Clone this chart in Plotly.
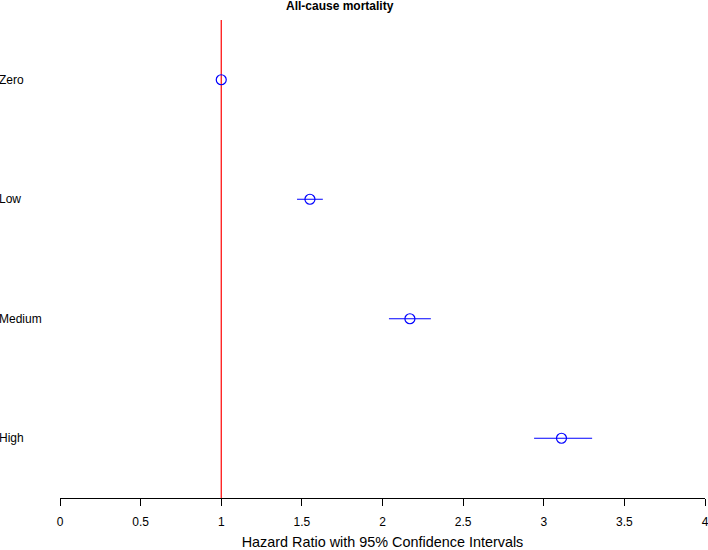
import plotly.graph_objects as go

categories = ["Zero", "Low", "Medium", "High"]
positions = [4, 3, 2, 1]
hazard_ratio = [1.0, 1.55, 2.17, 3.11]
ci_lower = [1.0, 1.47, 2.04, 2.94]
ci_upper = [1.0, 1.63, 2.30, 3.30]
tick_vals = [0, 0.5, 1, 1.5, 2, 2.5, 3, 3.5, 4]
tick_text = ["0", "0.5", "1", "1.5", "2", "2.5", "3", "3.5", "4"]
reference_value = 1

FONT = "Liberation Sans, Arial, Helvetica, sans-serif"

fig = go.Figure()
fig.add_trace(go.Scatter(
    x=hazard_ratio,
    y=positions,
    mode="markers",
    marker=dict(symbol="circle-open", size=10, color="#0000ff", line=dict(width=1.2, color="#0000ff")),
    error_x=dict(
        type="data", symmetric=False,
        array=[u - h for u, h in zip(ci_upper, hazard_ratio)],
        arrayminus=[h - l for h, l in zip(hazard_ratio, ci_lower)],
        color="#0000ff", thickness=1, width=0,
    ),
    showlegend=False,
    hoverinfo="skip",
))

fig.add_shape(type="line", x0=reference_value, x1=reference_value, y0=0.5, y1=4.5,
              xref="x", yref="y", line=dict(color="#ff0000", width=1.2), layer="below")

W, H = 708, 550
ml, mr, mt, mb = 60, 3, 20, 52
pw = W - ml - mr

for cat, pos in zip(categories, positions):
    fig.add_annotation(text=cat, x=-ml / pw, xref="paper", y=pos, yref="y",
                       xanchor="left", yanchor="middle", showarrow=False, xshift=-3,
                       font=dict(family=FONT, size=12, color="#000"))

fig.add_annotation(text="<b>All-cause mortality</b>", x=(340 - ml) / pw, xref="paper",
                   y=1, yref="paper", yshift=14, xanchor="center", yanchor="middle",
                   showarrow=False, font=dict(family=FONT, size=12, color="#000"))

fig.update_layout(
    width=W, height=H,
    margin=dict(l=ml, r=mr, t=mt, b=mb, autoexpand=False),
    paper_bgcolor="white", plot_bgcolor="white",
    font=dict(family=FONT, size=12, color="#000"),
    xaxis=dict(
        range=[0, 4], tickvals=tick_vals, ticktext=tick_text,
        showgrid=False, zeroline=False, showline=True, linecolor="#000", linewidth=1,
        ticks="outside", ticklen=7, tickwidth=1, tickcolor="#000",
        tickfont=dict(family=FONT, size=12, color="#000"),
        ticklabelstandoff=6, automargin=False, ticklabeloverflow="allow",
        title=dict(text="Hazard Ratio with 95% Confidence Intervals",
                   font=dict(family=FONT, size=14.4, color="#000"), standoff=9),
    ),
    yaxis=dict(range=[0.5, 4.5], showgrid=False, zeroline=False, showline=False,
               showticklabels=False, ticks="", automargin=False),
)

fig.write_html("out.html", config={"displayModeBar": False},
               post_script="document.body.style.margin='0px';")
